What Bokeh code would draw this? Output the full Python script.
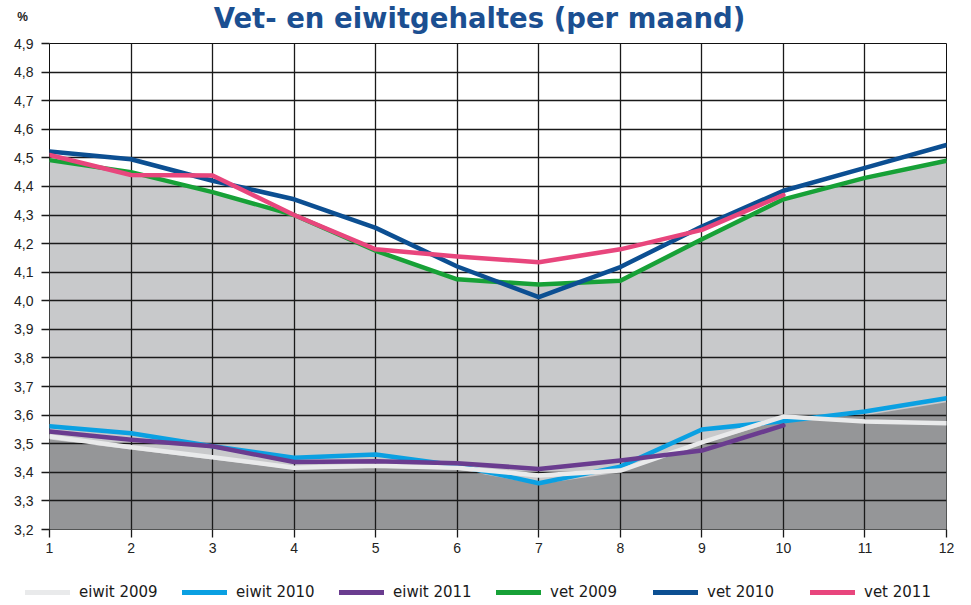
from bokeh.plotting import figure
from bokeh.layouts import column
from bokeh.models import Label, Legend, LegendItem, FixedTicker, CustomJSTickFormatter, Range1d
from bokeh.embed import file_html
from bokeh.resources import INLINE

# ---------------- data ----------------
months = [1, 2, 3, 4, 5, 6, 7, 8, 9, 10, 11, 12]
months_2011 = [1, 2, 3, 4, 5, 6, 7, 8, 9, 10]

eiwit_2009 = [3.525, 3.488, 3.453, 3.416, 3.423, 3.416, 3.389, 3.406, 3.505, 3.595, 3.578, 3.572]
eiwit_2010 = [3.561, 3.537, 3.491, 3.451, 3.462, 3.424, 3.362, 3.420, 3.550, 3.579, 3.613, 3.659]
eiwit_2011 = [3.543, 3.514, 3.491, 3.436, 3.439, 3.432, 3.412, 3.441, 3.476, 3.564]
vet_2009 = [4.492, 4.450, 4.380, 4.300, 4.175, 4.075, 4.057, 4.070, 4.215, 4.355, 4.430, 4.490]
vet_2010 = [4.522, 4.495, 4.420, 4.355, 4.255, 4.120, 4.013, 4.118, 4.260, 4.385, 4.465, 4.545]
vet_2011 = [4.510, 4.440, 4.438, 4.300, 4.180, 4.155, 4.135, 4.180, 4.248, 4.370]

# shaded background areas (light = fat band, dark = protein band)
area_light = vet_2009
area_dark = [3.515, 3.480, 3.445, 3.410, 3.415, 3.410, 3.358, 3.400, 3.500, 3.585, 3.600, 3.645]

y_ticks = [3.2, 3.3, 3.4, 3.5, 3.6, 3.7, 3.8, 3.9, 4.0, 4.1, 4.2, 4.3, 4.4, 4.5, 4.6, 4.7, 4.8, 4.9]
title_text = "Vet- en eiwitgehaltes (per maand)"
unit_text = "%"

labels = ["eiwit 2009", "eiwit 2010", "eiwit 2011", "vet 2009", "vet 2010", "vet 2011"]
colors = ["#e9eaeb", "#0aa0e2", "#6a3c8f", "#17a137", "#0c4f92", "#e8467d"]
xs_series = [months, months, months_2011, months, months, months_2011]
ys_series = [eiwit_2009, eiwit_2010, eiwit_2011, vet_2009, vet_2010, vet_2011]

W = 971
TOP_H = 35
LEG_H = 30
MAIN_H = 605 - TOP_H - LEG_H


def strip(height):
    f = figure(width=W, height=height, output_backend="svg", toolbar_location=None,
               x_axis_location=None, y_axis_location=None,
               min_border=0, min_border_left=0, min_border_right=0, min_border_top=0, min_border_bottom=0,
               x_range=Range1d(0, W), y_range=Range1d(0, height))
    f.outline_line_color = None
    f.xgrid.visible = False
    f.ygrid.visible = False
    f.frame_align = False
    return f


# ---------------- title strip ----------------
top = strip(TOP_H)
top.add_layout(Label(x=479, y=TOP_H - 17.5, text=title_text, text_align="center", text_baseline="middle",
                     text_font="DejaVu Sans", text_font_style="bold",
                     text_font_size="27.5px", text_color="#1b4f91"))
top.add_layout(Label(x=22, y=TOP_H - 16, text=unit_text, text_align="center", text_baseline="middle",
                     text_font="Liberation Sans", text_font_style="bold",
                     text_font_size="12px", text_color="#222222"))

# ---------------- main figure ----------------
p = figure(width=W, height=MAIN_H, output_backend="svg", toolbar_location=None,
           x_range=Range1d(1, 12), y_range=Range1d(3.2, 4.9),
           min_border_left=49, min_border_right=25, min_border_top=43 - TOP_H,
           min_border_bottom=MAIN_H - (529 - TOP_H))
p.title.visible = False
p.background_fill_color = "white"
p.border_fill_color = "white"
p.outline_line_color = "#111111"
p.outline_line_width = 1

# areas
p.varea(x=months, y1=3.2, y2=area_light, fill_color="#c8c9cb", level="underlay")
p.varea(x=months, y1=3.2, y2=area_dark, fill_color="#959698", level="underlay")

# grids
for g in (p.xgrid, p.ygrid):
    g.grid_line_color = "#1a1a1a"
    g.grid_line_width = 1.3
    g.level = "underlay"
p.xgrid.ticker = FixedTicker(ticks=months)
p.ygrid.ticker = FixedTicker(ticks=y_ticks)

# axes
p.xaxis.ticker = FixedTicker(ticks=months)
p.yaxis.ticker = FixedTicker(ticks=y_ticks)
p.yaxis.formatter = CustomJSTickFormatter(code="return tick.toFixed(1).replace('.', ',');")
for ax in (p.xaxis, p.yaxis):
    ax.axis_line_color = None
    ax.major_tick_line_color = "#1a1a1a"
    ax.major_tick_line_width = 1.3
    ax.major_tick_out = 8
    ax.major_tick_in = 0
    ax.minor_tick_line_color = None
    ax.major_label_text_font = "Liberation Sans"
    ax.major_label_text_font_size = "14px"
    ax.major_label_text_color = "#222222"
p.yaxis.major_label_standoff = 8
p.xaxis.major_label_standoff = 5

# lines (drawing order chosen to match overlaps)
line_kw = dict(line_width=4.5, line_cap="round", line_join="round")
for i in [1, 0, 2, 3, 4, 5]:
    p.line(xs_series[i], ys_series[i], line_color=colors[i], **line_kw)

# ---------------- legend strip ----------------
lg = strip(LEG_H)
lg.y_range = Range1d(0, 1)
# same series, outside this strip's visible range: only their legend samples show
leg_rends = [lg.line(xs_series[i], ys_series[i], line_color=colors[i], line_width=5, line_cap="round")
             for i in range(6)]
legend = Legend(items=[LegendItem(label=l, renderers=[r]) for l, r in zip(labels, leg_rends)],
                orientation="horizontal", location=(25, 4),
                glyph_width=45, glyph_height=14, label_standoff=9, label_width=82, spacing=21,
                padding=0, margin=0, border_line_color=None, background_fill_alpha=0,
                label_text_font="DejaVu Sans", label_text_font_size="15px",
                label_text_color="#1a1a1a", label_height=14)
lg.add_layout(legend, "center")

open("out.html", "w").write(file_html(column(top, p, lg, spacing=0), INLINE))
